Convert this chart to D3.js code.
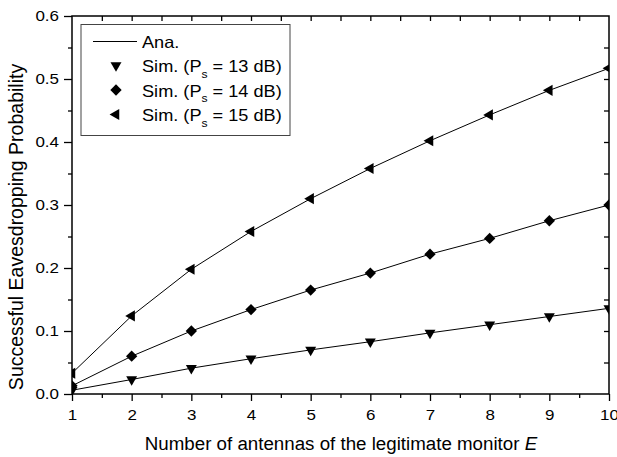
<!DOCTYPE html>
<html>
  <head>
    <meta charset="utf-8" />
    <title>Successful eavesdropping probability</title>
    <style>
      body {
        margin: 0;
        background: #fff;
      }
      svg text {
        font-family: "Liberation Sans", Arial, sans-serif;
        fill: #000;
      }
    </style>
  </head>
  <body>
    <svg class="canvas"></svg>
    <script src="https://cdn.jsdelivr.net/npm/d3@7"></script>
    <script>
      // ---------------- data ----------------
      const antennas = [1, 2, 3, 4, 5, 6, 7, 8, 9, 10];
      const ps13 = [0.006, 0.023, 0.041, 0.056, 0.070, 0.083, 0.097, 0.110, 0.123, 0.136];
      const ps14 = [0.013, 0.060, 0.100, 0.134, 0.165, 0.192, 0.222, 0.247, 0.275, 0.300];
      const ps15 = [0.033, 0.124, 0.198, 0.258, 0.310, 0.358, 0.402, 0.443, 0.482, 0.517];
      const seriesNames = ["13", "14", "15"];
      const xTicks = [1, 2, 3, 4, 5, 6, 7, 8, 9, 10];
      const yTicks = [0.0, 0.1, 0.2, 0.3, 0.4, 0.5, 0.6];

      const width = 617,
        height = 457;
      const pLeft = 72,
        pRight = 609,
        pTop = 16,
        pBottom = 394;

      const svg = d3.select(".canvas").attr("width", width).attr("height", height);

      const x = d3.scaleLinear().domain([1, 10]).range([pLeft, pRight]);
      const y = d3.scaleLinear().domain([0, 0.6]).range([pBottom, pTop]);

      // the original figure's lettering is a bit wider than Liberation Sans
      function stretch(sel, f) {
        sel.each(function () {
          const len = this.getComputedTextLength();
          d3.select(this).attr("textLength", len * f).attr("lengthAdjust", "spacingAndGlyphs");
        });
      }

      svg
        .append("defs")
        .append("clipPath")
        .attr("id", "plot")
        .append("rect")
        .attr("x", pLeft)
        .attr("y", pTop)
        .attr("width", pRight - pLeft)
        .attr("height", pBottom - pTop);

      // ---------------- axes ----------------
      const minorX = d3.range(1.5, 10, 1);
      const minorY = d3.range(0.05, 0.6, 0.1);

      const xAxis = svg.append("g").attr("transform", `translate(0,${pBottom})`);
      xAxis
        .call(d3.axisBottom(x).tickValues(xTicks).tickFormat(d3.format("d")).tickSize(7).tickPadding(9))
        .call((g) => g.select(".domain").remove());
      xAxis
        .append("g")
        .call(d3.axisBottom(x).tickValues(minorX).tickSize(4).tickFormat(""))
        .call((g) => g.select(".domain").remove());

      const yAxis = svg.append("g").attr("transform", `translate(${pLeft},0)`);
      yAxis
        .call(d3.axisLeft(y).tickValues(yTicks).tickFormat(d3.format(".1f")).tickSize(8).tickPadding(5))
        .call((g) => g.select(".domain").remove());
      yAxis
        .append("g")
        .call(d3.axisLeft(y).tickValues(minorY).tickSize(4).tickFormat(""))
        .call((g) => g.select(".domain").remove());

      // top and right: inward ticks only
      svg
        .append("g")
        .attr("transform", `translate(0,${pTop})`)
        .call(d3.axisBottom(x).tickValues(d3.range(1.5, 10, 0.5)).tickSize(5).tickFormat(""))
        .call((g) => g.select(".domain").remove());
      svg
        .append("g")
        .attr("transform", `translate(${pRight},0)`)
        .call(d3.axisLeft(y).tickValues(d3.range(0.05, 0.6, 0.05)).tickSize(5).tickFormat(""))
        .call((g) => g.select(".domain").remove());

      svg.selectAll(".tick line").attr("stroke", "#000").attr("stroke-width", 1.3);
      svg
        .selectAll(".tick text")
        .attr("font-size", 14.5)
        .attr("font-family", "Liberation Sans, Arial, sans-serif")
        .call(stretch, 1.17);

      svg
        .append("rect")
        .attr("x", pLeft)
        .attr("y", pTop)
        .attr("width", pRight - pLeft)
        .attr("height", pBottom - pTop)
        .attr("fill", "none")
        .attr("stroke", "#000")
        .attr("stroke-width", 1.5);

      // ---------------- series ----------------
      const markers = [
        { sym: d3.symbolTriangle, size: 52, rot: 180 },
        { sym: d3.symbolSquare, size: 64, rot: 45 },
        { sym: d3.symbolTriangle, size: 54, rot: -90 },
      ];
      const series = [ps13, ps14, ps15];

      const line = d3
        .line()
        .x((d, i) => x(antennas[i]))
        .y((d) => y(d));

      const plot = svg.append("g").attr("clip-path", "url(#plot)");

      series.forEach((vals, k) => {
        plot
          .append("path")
          .attr("d", line(vals))
          .attr("fill", "none")
          .attr("stroke", "#000")
          .attr("stroke-width", 1);

        plot
          .selectAll(null)
          .data(vals)
          .join("path")
          .attr("d", d3.symbol(markers[k].sym, markers[k].size))
          .attr("transform", (d, i) => `translate(${x(antennas[i])},${y(d)}) rotate(${markers[k].rot})`)
          .attr("fill", "#000");
      });

      // ---------------- legend ----------------
      const legend = svg.append("g");
      legend
        .append("rect")
        .attr("x", 81)
        .attr("y", 24.5)
        .attr("width", 209)
        .attr("height", 111)
        .attr("fill", "#fff")
        .attr("stroke", "#444")
        .attr("stroke-width", 1);

      legend
        .append("line")
        .attr("x1", 93)
        .attr("x2", 137)
        .attr("y1", 41.5)
        .attr("y2", 41.5)
        .attr("stroke", "#000")
        .attr("stroke-width", 1);
      legend
        .append("text")
        .attr("x", 142)
        .attr("y", 47.5)
        .attr("font-size", 16.5)
        .text("Ana.")
        .call(stretch, 1.1);

      seriesNames.forEach((name, k) => {
        const cy = 65.5 + k * 24.5;
        legend
          .append("path")
          .attr("d", d3.symbol(markers[k].sym, markers[k].size))
          .attr("transform", `translate(116,${cy}) rotate(${markers[k].rot})`)
          .attr("fill", "#000");
        const t = legend
          .append("text")
          .attr("x", 142)
          .attr("y", cy + 6.5)
          .attr("font-size", 16.5);
        t.append("tspan").text("Sim. (P");
        t.append("tspan").attr("font-size", 11).attr("dy", 5.5).text("s");
        t.append("tspan").attr("dy", -5.5).text(` = ${name} dB)`);
        t.call(stretch, 1.1);
      });

      // ---------------- titles ----------------
      svg
        .append("text")
        .attr("x", (pLeft + pRight) / 2 + 0.5)
        .attr("y", 450)
        .attr("text-anchor", "middle")
        .attr("font-size", 18)
        .call((t) => {
          t.append("tspan").text("Number of antennas of the legitimate monitor ");
          t.append("tspan").attr("font-style", "italic").text("E");
        })
        .call(stretch, 1.04);

      svg
        .append("text")
        .attr("transform", "translate(22.5,227) rotate(-90)")
        .attr("text-anchor", "middle")
        .attr("font-size", 19.5)
        .text("Successful Eavesdropping Probability");
    </script>
  </body>
</html>
